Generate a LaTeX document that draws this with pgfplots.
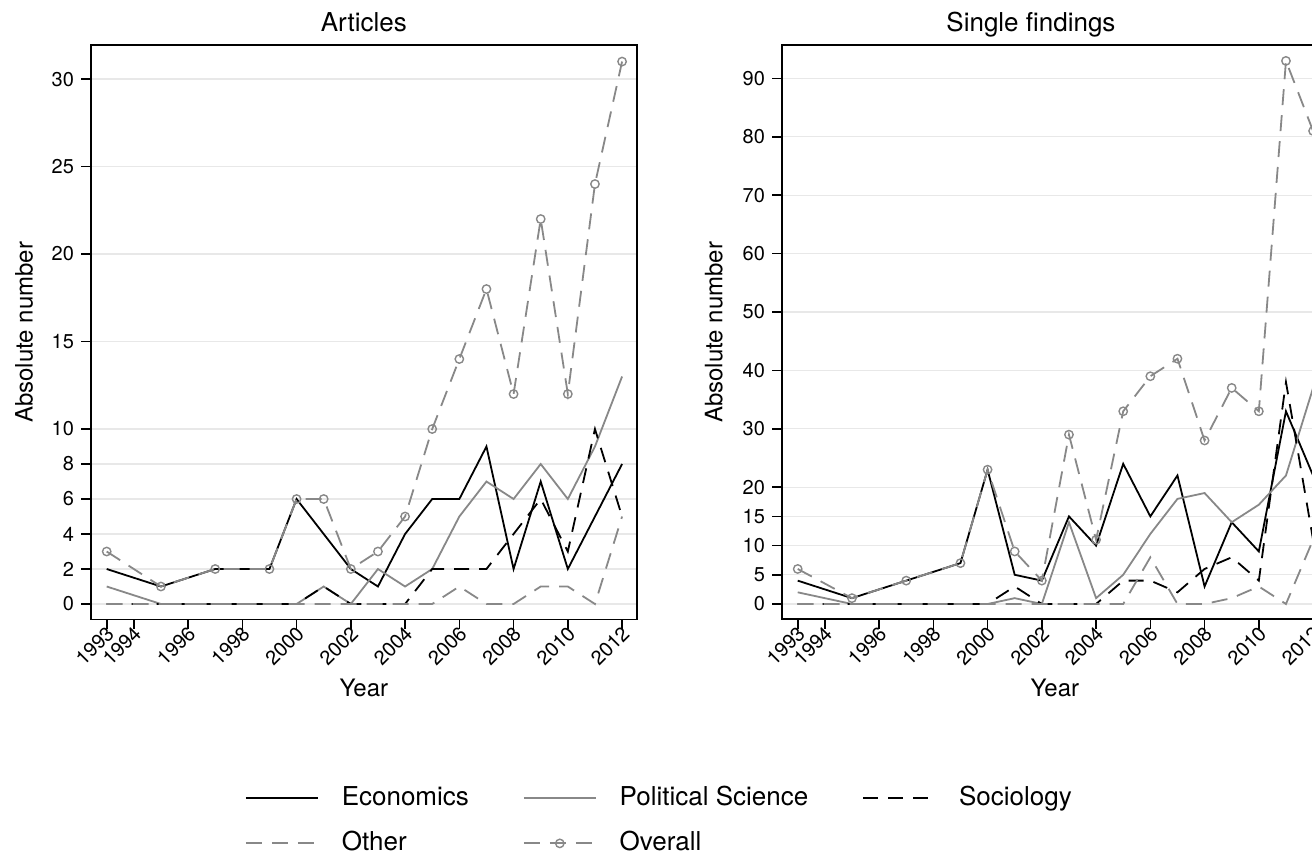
\documentclass[border=0pt]{standalone}
\usepackage{fontspec}
\setmainfont{TeX Gyre Heros}
\usepackage{pgfplots}
\usepackage{pgfplotstable}
\pgfplotsset{compat=1.18}
\definecolor{lgray}{RGB}{136,136,136}
\definecolor{gridc}{RGB}{232,232,232}

\pgfplotstableread{
year econ ps soc other overall
1993 2 1 0 0 3
1995 1 0 0 0 1
1997 2 0 0 0 2
1999 2 0 0 0 2
2000 6 0 0 0 6
2001 4 1 1 0 6
2002 2 0 0 0 2
2003 1 2 0 0 3
2004 4 1 0 0 5
2005 6 2 2 0 10
2006 6 5 2 1 14
2007 9 7 2 0 18
2008 2 6 4 0 12
2009 7 8 6 1 22
2010 2 6 3 1 12
2011 5 9 10 0 24
2012 8 13 5 5 31
}\articles

\pgfplotstableread{
year econ ps soc other overall
1993 4 2 0 0 6
1995 1 0 0 0 1
1997 4 0 0 0 4
1999 7 0 0 0 7
2000 23 0 0 0 23
2001 5 1 3 0 9
2002 4 0 0 0 4
2003 15 14 0 0 29
2004 10 1 0 0 11
2005 24 5 4 0 33
2006 15 12 4 8 39
2007 22 18 2 0 42
2008 3 19 6 0 28
2009 14 14 8 1 37
2010 9 17 4 3 33
2011 33 22 38 0 93
2012 22 37 11 11 81
}\findings

\pgfplotsset{
  panel/.style={
    scale only axis, width=273.15pt, height=287pt,
    axis line style={black, line width=0.8pt},
    xmin=1992.41, xmax=2012.55,
    xtick={1993,1994,1996,1998,2000,2002,2004,2006,2008,2010,2012},
    tick align=outside, xtick pos=bottom, ytick pos=left,
    major tick length=4.85pt,
    every tick/.style={black, line width=0.8pt},
    ymajorgrids, grid style={gridc, line width=0.6pt},
    /pgf/number format/assume math mode=true,
    /pgf/number format/1000 sep={},
    xticklabel style={xshift=3.75pt, yshift=1.25pt, rotate=45, anchor=east, inner sep=2.5pt, font=\fontsize{10}{12}\selectfont},
    yticklabel style={font=\fontsize{10}{12}\selectfont},
    xlabel={Year}, ylabel={Absolute number},
    every axis x label/.style={at={(axis description cs:0.5,-0.1197)}, anchor=center, font=\fontsize{12}{14}\selectfont},
    every axis title/.style={anchor=base, yshift=7pt, font=\fontsize{13}{15}\selectfont},
    legend image code/.code={\draw[mark repeat=2,mark phase=2,##1] plot coordinates {(0pt,0pt) (18pt,0pt) (36pt,0pt)};},
  },
  econ/.style={black, line width=0.9pt, no markers},
  ps/.style={lgray, line width=0.9pt, no markers},
  soc/.style={black, line width=0.9pt, no markers, dash pattern=on 7.5pt off 5pt},
  oth/.style={lgray, line width=0.9pt, no markers, dash pattern=on 8pt off 5pt},
  ovr/.style={lgray, line width=0.9pt, dash pattern=on 8pt off 5pt, mark=o, mark size=2.1pt, mark options={solid, line width=0.7pt, fill=none}},
}

\begin{document}
\begin{tikzpicture}
\path[use as bounding box, clip] (0,0) rectangle (656pt,428.5pt);

\begin{axis}[panel, at={(45.35pt,118.85pt)}, anchor=south west,
  ymin=-0.874, ymax=31.93,
  ytick={0,2,4,6,8,10,15,20,25,30},
  title={Articles}, title style={at={(axis description cs:0.5,1)}},
  every axis y label/.style={at={(axis description cs:-0.1221,0.5)}, rotate=90, anchor=center, font=\fontsize{12}{14}\selectfont},
  legend columns=3, legend cell align=left,
  legend style={at={(axis description cs:0.2824,-0.2911)}, anchor=north west, draw=none, fill=none,
    inner sep=0pt, outer sep=0pt, font=\fontsize{13}{15}\selectfont,
    nodes={inner sep=0pt, text height=9.5pt, text depth=2.5pt},
    row sep=10.5pt,
    /tikz/every odd column/.append style={column sep=11.5pt},
    /tikz/every even column/.append style={column sep=27pt}},
]
\addplot[econ] table[x=year, y=econ] {\articles};
\addlegendentry{Economics}
\addplot[ps] table[x=year, y=ps] {\articles};
\addlegendentry{Political Science}
\addplot[soc] table[x=year, y=soc] {\articles};
\addlegendentry{Sociology}
\addplot[oth] table[x=year, y=other] {\articles};
\addlegendentry{Other}
\addplot[ovr] table[x=year, y=overall] {\articles};
\addlegendentry{Overall}
\end{axis}

\begin{axis}[panel, at={(390.85pt,118.85pt)}, anchor=south west,
  ymin=-2.62, ymax=95.67,
  ytick={0,5,10,15,20,30,40,50,60,70,80,90},
  title={Single findings}, title style={at={(axis description cs:0.4563,1)}},
  every axis y label/.style={at={(axis description cs:-0.1243,0.5)}, rotate=90, anchor=center, font=\fontsize{12}{14}\selectfont},
]
\addplot[econ] table[x=year, y=econ] {\findings};
\addplot[ps] table[x=year, y=ps] {\findings};
\addplot[soc] table[x=year, y=soc] {\findings};
\addplot[oth] table[x=year, y=other] {\findings};
\addplot[ovr] table[x=year, y=overall] {\findings};
\end{axis}
\end{tikzpicture}
\end{document}
